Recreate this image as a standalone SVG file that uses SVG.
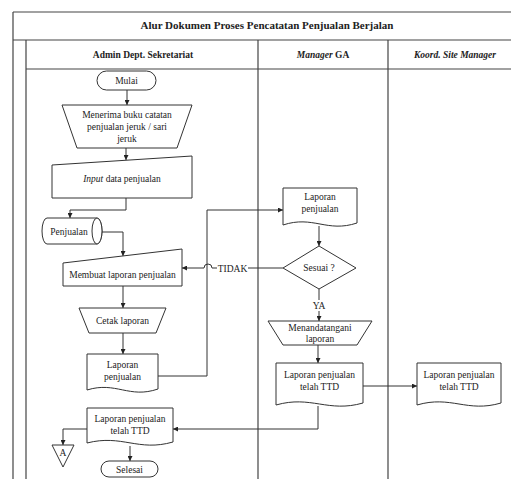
<svg xmlns="http://www.w3.org/2000/svg" width="511" height="479" viewBox="0 0 511 479">
<defs>
<marker id="ah" viewBox="0 0 10 10" refX="10" refY="5" markerWidth="5" markerHeight="5" orient="auto" markerUnits="userSpaceOnUse">
<path d="M0,0 L10,5 L0,10 z" fill="#222"/>
</marker>
<style>
.frame{fill:none;stroke:#444;stroke-width:1.2}
.shape{fill:#fff;stroke:#333;stroke-width:1}
.conn{fill:none;stroke:#333;stroke-width:1}
.arr{marker-end:url(#ah)}
text{font-family:"Liberation Serif","Times New Roman",serif;fill:#222}
.t{font-size:9.5px;text-anchor:middle}
.h{font-size:9.5px;font-weight:bold;text-anchor:middle}
.title{font-size:11px;font-weight:bold;text-anchor:middle}
</style>
</defs>
<rect width="511" height="479" fill="#fff"/>
<g id="frame">
<line class="frame" x1="13" y1="12" x2="511" y2="12"/>
<line class="frame" x1="13" y1="40" x2="511" y2="40"/>
<line class="frame" x1="26" y1="69" x2="511" y2="69"/>
<line class="frame" x1="13" y1="12" x2="13" y2="479"/>
<line class="frame" x1="26" y1="40" x2="26" y2="479"/>
<line class="frame" x1="258" y1="40" x2="258" y2="479"/>
<line class="frame" x1="388" y1="40" x2="388" y2="479"/>
<text class="title" x="267" y="29">Alur Dokumen Proses Pencatatan Penjualan Berjalan</text>
<text class="h" x="143" y="58">Admin Dept. Sekretariat</text>
<text class="h" x="323" y="58"><tspan font-style="italic">Manager</tspan> GA</text>
<text class="h" x="455" y="58" font-style="italic">Koord. Site Manager</text>
</g>
<g id="connectors">
<line class="conn arr" x1="127" y1="90" x2="127" y2="105"/>
<line class="conn arr" x1="126" y1="148" x2="126" y2="160"/>
<polyline class="conn arr" points="126,198 126,210 70,210 70,218"/>
<polyline class="conn arr" points="102,232 123,232 123,256"/>
<line class="conn arr" x1="123" y1="286" x2="123" y2="308"/>
<line class="conn arr" x1="123" y1="333" x2="123" y2="354"/>
<polyline class="conn arr" points="158,376 207,376 207,210 283,210"/>
<line class="conn arr" x1="319" y1="226" x2="319" y2="246"/>
<path class="conn arr" d="M283,268 H212 A3,3 0 0 0 204,268 H182"/>
<line class="conn arr" x1="319" y1="289" x2="319" y2="321"/>
<line class="conn arr" x1="318" y1="345" x2="318" y2="363"/>
<polyline class="conn arr" points="318,406 318,429 173,429"/>
<line class="conn arr" x1="363" y1="386" x2="417" y2="386"/>
<polyline class="conn arr" points="87,429 63,429 63,445"/>
<line class="conn arr" x1="130" y1="446" x2="130" y2="461"/>
<rect x="217" y="262" width="31" height="12" fill="#fff"/>
<text class="t" x="232.5" y="271.5">TIDAK</text>
<rect x="310" y="300" width="18" height="11" fill="#fff"/>
<text class="t" x="319" y="309">YA</text>
</g>
<g id="mulai">
<rect class="shape" x="97" y="71" width="59" height="19" rx="9.5"/>
<text class="t" x="126.5" y="84">Mulai</text>
</g>
<g id="menerima">
<polygon class="shape" points="62,105 192,105 177,148 77,148"/>
<text class="t" x="127" y="118">Menerima buku catatan</text>
<text class="t" x="127" y="130">penjualan jeruk / sari</text>
<text class="t" x="127" y="142">jeruk</text>
</g>
<g id="input-data">
<polygon class="shape" points="52,165 192,156 192,198 52,198"/>
<text class="t" x="122" y="182"><tspan font-style="italic">Input</tspan> data penjualan</text>
</g>
<g id="penjualan-db">
<path class="shape" d="M47,218 H97 A5,13 0 0 1 97,244 H47 A5,13 0 0 1 47,218 Z"/>
<ellipse class="shape" cx="97" cy="231" rx="5" ry="13"/>
<text class="t" x="69" y="235">Penjualan</text>
</g>
<g id="membuat">
<polygon class="shape" points="63,263 182,249 182,286 63,286"/>
<text class="t" x="122.5" y="278">Membuat laporan penjualan</text>
</g>
<g id="cetak">
<polygon class="shape" points="79,308 166,308 156,333 89,333"/>
<text class="t" x="122.5" y="324">Cetak laporan</text>
</g>
<g id="laporan-admin">
<path class="shape" d="M87,354 H158 V389 C129,399 116,381 87,390 Z"/>
<text class="t" x="122.5" y="368">Laporan</text>
<text class="t" x="122.5" y="380">penjualan</text>
</g>
<g id="ttd-admin">
<path class="shape" d="M87,408 H173 V442 C138,452 122,434 87,443 Z"/>
<text class="t" x="130" y="422">Laporan penjualan</text>
<text class="t" x="130" y="434">telah TTD</text>
</g>
<g id="konektor-a">
<polygon class="shape" points="52,445 74,445 63,467"/>
<text class="t" x="63" y="456">A</text>
</g>
<g id="selesai">
<rect class="shape" x="101" y="461" width="57" height="16" rx="8"/>
<text class="t" x="129.5" y="472.5">Selesai</text>
</g>
<g id="laporan-ga">
<path class="shape" d="M283,188 H357 V223 C327,233 313,215 283,225 Z"/>
<text class="t" x="320" y="200">Laporan</text>
<text class="t" x="320" y="212">penjualan</text>
</g>
<g id="sesuai">
<polygon class="shape" points="319,246 356,268 319,289 283,268"/>
<text class="t" x="319" y="271">Sesuai ?</text>
</g>
<g id="menandatangani">
<polygon class="shape" points="268,321 372,321 357,345 283,345"/>
<text class="t" x="320" y="331">Menandatangani</text>
<text class="t" x="320" y="342">laporan</text>
</g>
<g id="ttd-ga">
<path class="shape" d="M276,363 H363 V403 C328,413 311,395 276,405 Z"/>
<text class="t" x="319.5" y="378">Laporan penjualan</text>
<text class="t" x="319.5" y="390">telah TTD</text>
</g>
<g id="ttd-koord">
<path class="shape" d="M417,363 H501 V403 C467,413 451,395 417,405 Z"/>
<text class="t" x="459" y="378">Laporan penjualan</text>
<text class="t" x="459" y="390">telah TTD</text>
</g>
</svg>
